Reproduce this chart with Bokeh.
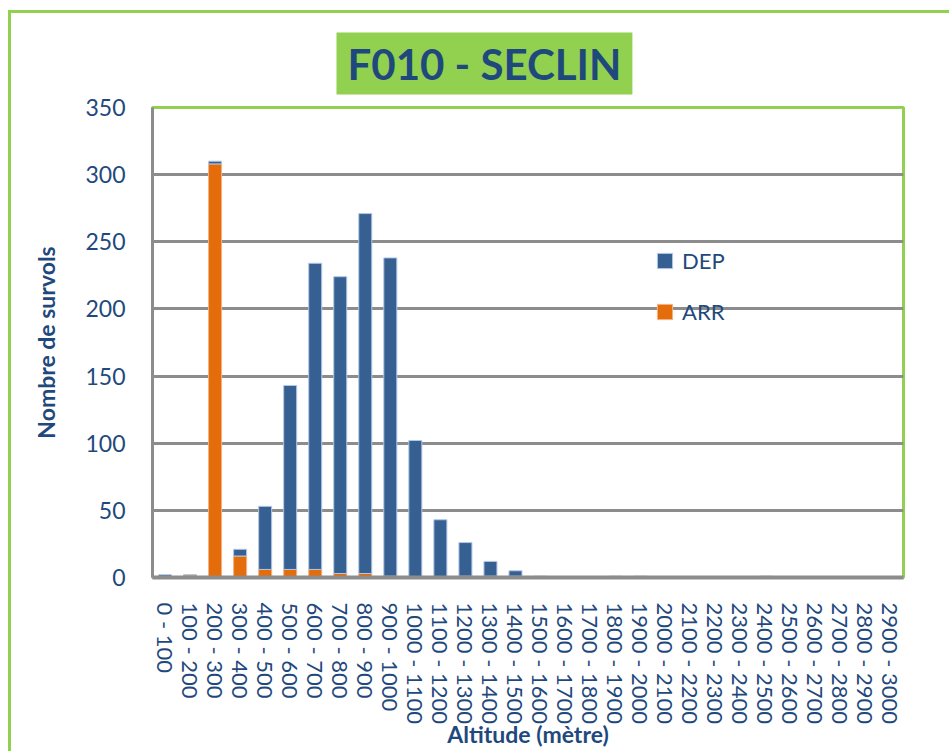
from bokeh.plotting import figure
from bokeh.models import (ColumnDataSource, FactorRange, Legend, LegendItem, Title,
                          FixedTicker)
from bokeh.embed import file_html
from bokeh.resources import INLINE

categories = ["0 - 100", "100 - 200", "200 - 300", "300 - 400", "400 - 500", "500 - 600",
              "600 - 700", "700 - 800", "800 - 900", "900 - 1000", "1000 - 1100",
              "1100 - 1200", "1200 - 1300", "1300 - 1400", "1400 - 1500", "1500 - 1600",
              "1600 - 1700", "1700 - 1800", "1800 - 1900", "1900 - 2000", "2000 - 2100",
              "2100 - 2200", "2200 - 2300", "2300 - 2400", "2400 - 2500", "2500 - 2600",
              "2600 - 2700", "2700 - 2800", "2800 - 2900", "2900 - 3000"]
dep = [2, 0, 2, 5, 47, 137, 228, 221, 268, 237, 102, 43, 25, 11, 4, 1,
       0, 0, 1, 1, 0, 0, 0, 0, 1, 0, 0, 0, 0, 0]
arr = [0, 2, 308, 16, 6, 6, 6, 3, 3, 1, 0, 0, 1, 1, 1, 0,
       0, 0, 0, 0, 0, 0, 0, 0, 0, 0, 0, 0, 0, 0]
y_ticks = [0, 50, 100, 150, 200, 250, 300, 350]
title_text = "F010 - SECLIN"
y_label = "Nombre de survols"
x_label = "Altitude (mètre)"

BLUE = "#366092"
ORANGE = "#E46C0A"
TXT = "#1F497D"
GREEN = "#92D050"
GRID = "#8C8C8C"

W, H = 949, 751
FL, FT, FW, FH = 152, 107, 751, 470

src = ColumnDataSource(data=dict(cat=categories, dep=dep, arr=arr))

p = figure(x_range=FactorRange(factors=categories, range_padding=0),
           y_range=(0, 350), width=W, height=H,
           output_backend="svg", toolbar_location=None,
           min_border_left=FL, min_border_right=W - FL - FW,
           min_border_top=FT, min_border_bottom=H - FT - FH)

# outer green frame line (left and top) drawn as the page element background
p.styles = {
    "background": ("linear-gradient(#92D050, #92D050) 8px 10px / 3px 100% no-repeat, "
                   "linear-gradient(#92D050, #92D050) 8px 10px / 100% 3px no-repeat, white"),
}
p.border_fill_color = None
p.background_fill_color = "white"

p.title = Title(text=title_text, align="left", offset=184, standoff=26,
                text_font="Lato", text_font_style="bold", text_font_size="42px",
                text_color=TXT, background_fill_color=GREEN,
                padding=dict(left=11, right=11, top=6, bottom=6))

rs = p.vbar_stack(["arr", "dep"], x="cat", width=0.52, source=src,
                  fill_color=[ORANGE, BLUE], line_color=["#F4B183", "#B4C7E7"],
                  line_width=1)

p.xgrid.grid_line_color = None
p.ygrid.grid_line_color = GRID
p.ygrid.grid_line_width = 3

p.outline_line_color = GREEN
p.outline_line_width = 3

yax = p.yaxis[0]
yax.ticker = FixedTicker(ticks=y_ticks)
yax.major_tick_out = 0
yax.major_tick_in = 0
yax.minor_tick_out = 0
yax.minor_tick_in = 0
yax.axis_line_color = GRID
yax.axis_line_width = 3
yax.major_label_text_font = "Lato"
yax.major_label_text_font_size = "23px"
yax.major_label_text_color = TXT
yax.major_label_standoff = 27
yax.axis_label = y_label
yax.axis_label_text_font = "Lato"
yax.axis_label_text_font_style = "bold"
yax.axis_label_text_font_size = "23px"
yax.axis_label_text_color = TXT
yax.axis_label_standoff = 22

xax = p.xaxis[0]
xax.major_tick_out = 0
xax.major_tick_in = 0
xax.axis_line_color = GRID
xax.axis_line_width = 4
xax.major_label_orientation = "vertical"
xax.major_label_text_font = "Lato"
xax.major_label_text_font_size = "22px"
xax.major_label_text_color = TXT
xax.major_label_standoff = 25
xax.axis_label = x_label
xax.axis_label_text_font = "Lato"
xax.axis_label_text_font_style = "bold"
xax.axis_label_text_font_size = "23px"
xax.axis_label_text_color = TXT
xax.axis_label_standoff = -7

legend = Legend(items=[LegendItem(label="DEP", renderers=[rs[1]]),
                       LegendItem(label="ARR", renderers=[rs[0]])],
                location=(503, 252), glyph_width=19, glyph_height=19,
                label_text_font="Lato", label_text_font_size="22px",
                label_text_color=TXT, label_standoff=8, spacing=24,
                padding=0, margin=0, border_line_color=None,
                background_fill_alpha=0)
p.add_layout(legend)

open("out.html", "w").write(file_html(p, INLINE))
